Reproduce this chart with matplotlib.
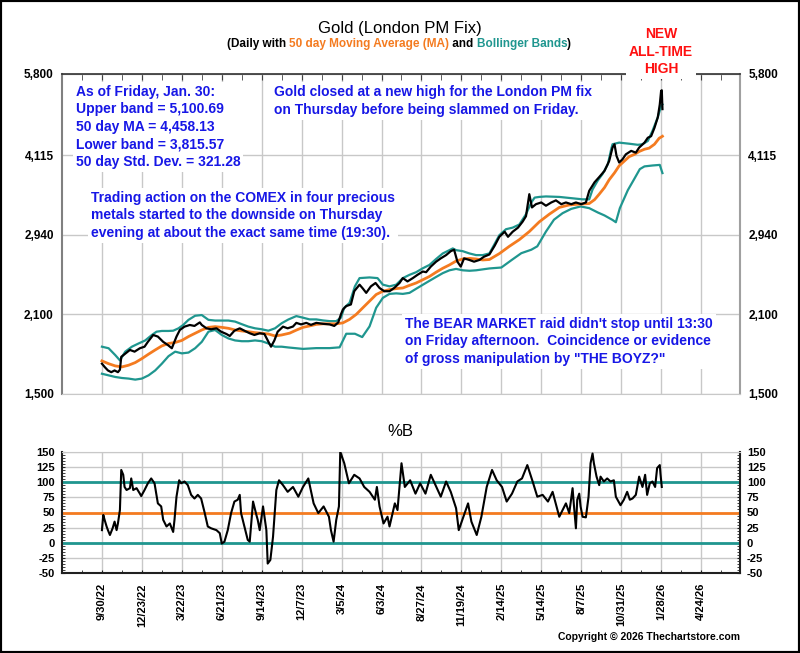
import matplotlib
matplotlib.use("Agg")
import matplotlib.pyplot as plt
from matplotlib.ticker import FixedLocator, MultipleLocator, NullLocator, FuncFormatter
from matplotlib.patches import Rectangle

plt.rcParams['font.family'] = ['Liberation Sans', 'DejaVu Sans']
plt.rcParams['font.weight'] = 'bold'
plt.rcParams['axes.unicode_minus'] = False

# ---------------- data (x = trading-day index from 9/30/22) ----------------
x_tick_labels = ["9/30/22", "12/23/22", "3/22/23", "6/21/23", "9/14/23", "12/7/23",
                 "3/5/24", "6/3/24", "8/27/24", "11/19/24", "2/14/25", "5/14/25",
                 "8/7/25", "10/31/25", "1/28/26", "4/24/26"]
x_tick_days = [0, 60, 120, 180, 240, 300, 360, 420, 480, 540, 600, 660, 720, 780, 840, 900]

price_day = [0, 4, 9, 14, 19, 24, 27, 29, 34, 42, 49, 57, 64, 69, 77, 84, 92, 99, 105, 112,
             117, 124, 132, 139, 147, 150, 157, 164, 172, 179, 187, 192, 199, 207, 214, 222,
             229, 237, 244, 249, 254, 259, 264, 272, 279, 287, 292, 299, 307, 314, 322, 332,
             342, 349, 355, 359, 362, 367, 374, 379, 387, 392, 397, 404, 411, 417, 424, 432,
             439, 447, 452, 459, 467, 474, 482, 487, 494, 502, 509, 517, 524, 529, 534, 539,
             544, 552, 559, 567, 574, 582, 590, 597, 605, 610, 617, 625, 632, 637, 642, 646,
             652, 660, 667, 675, 682, 690, 697, 705, 712, 720, 727, 732, 740, 747, 755, 762,
             767, 770, 773, 777, 782, 787, 795, 802, 807, 815, 820, 825, 830, 835, 838, 840,
             841, 842]
price_val = [1705, 1682, 1657, 1645, 1657, 1645, 1662, 1755, 1775, 1807, 1794, 1820, 1832, 1870,
             1925, 1912, 1870, 1845, 1820, 1912, 1966, 1994, 2008, 2000, 2030, 2008, 1980, 1972,
             1980, 1952, 1933, 1917, 1960, 1980, 1960, 1939, 1925, 1939, 1933, 1881, 1832, 1881,
             1952, 1994, 1980, 1995, 2026, 2013, 2026, 2009, 2026, 2018, 2013, 2000, 2030, 2100,
             2144, 2175, 2190, 2316, 2381, 2342, 2300, 2364, 2398, 2348, 2316, 2316, 2348, 2398,
             2448, 2414, 2448, 2482, 2517, 2510, 2570, 2624, 2661, 2698, 2743, 2760, 2624, 2570,
             2661, 2643, 2624, 2643, 2680, 2705, 2808, 2915, 2978, 2915, 2978, 3030, 3108, 3180,
             3490, 3300, 3346, 3370, 3324, 3370, 3400, 3346, 3370, 3346, 3370, 3346, 3370, 3540,
             3670, 3752, 3852, 4017, 4250, 4310, 4103, 3990, 4045, 4130, 4191, 4160, 4250, 4340,
             4430, 4460, 4620, 4830, 5100, 5400, 5415, 5000]

ma_day = [0, 10, 20, 30, 40, 50, 60, 70, 80, 90, 100, 110, 120, 130, 140, 150, 160, 170, 180,
          190, 200, 210, 220, 230, 240, 250, 260, 270, 282, 292, 302, 312, 322, 332, 342, 352,
          362, 372, 382, 392, 402, 412, 422, 432, 442, 452, 462, 472, 482, 492, 502, 512, 522,
          532, 542, 552, 562, 572, 582, 597, 612, 627, 642, 657, 672, 687, 702, 717, 732, 740,
          747, 755, 762, 770, 777, 785, 792, 800, 807, 815, 822, 830, 837, 842]
ma_val = [1725, 1705, 1689, 1682, 1694, 1713, 1742, 1775, 1807, 1838, 1857, 1865, 1881, 1912,
          1939, 1966, 1988, 1994, 1988, 1980, 1966, 1958, 1952, 1944, 1939, 1933, 1917, 1925,
          1940, 1965, 1988, 2000, 2013, 2018, 2018, 2018, 2026, 2056, 2100, 2160, 2221, 2284,
          2316, 2332, 2342, 2348, 2374, 2398, 2431, 2465, 2510, 2552, 2588, 2631, 2654, 2661,
          2654, 2643, 2648, 2715, 2800, 2880, 2980, 3105, 3207, 3300, 3335, 3346, 3355, 3410,
          3490, 3590, 3710, 3820, 3935, 4017, 4090, 4130, 4180, 4220, 4240, 4310, 4420, 4458.13]

upper_day = [0, 10, 20, 27, 35, 45, 55, 65, 75, 82, 90, 100, 107, 115, 122, 130, 140, 150, 160,
             170, 180, 190, 200, 210, 220, 230, 240, 250, 260, 270, 280, 292, 302, 312, 322,
             332, 342, 352, 359, 364, 372, 380, 387, 402, 414, 422, 432, 442, 452, 462, 472,
             482, 492, 502, 512, 522, 527, 532, 542, 552, 562, 572, 582, 590, 597, 607, 617,
             627, 637, 645, 650, 657, 667, 687, 707, 722, 732, 737, 745, 752, 760, 765, 767,
             777, 792, 805, 812, 820, 827, 835, 840, 842]
upper_val = [1832, 1820, 1768, 1729, 1794, 1832, 1857, 1881, 1925, 1952, 1958, 1958, 1960, 1980,
             2008, 2052, 2088, 2094, 2052, 2046, 2046, 2046, 2037, 2015, 1994, 1980, 1972, 1960,
             1980, 2023, 2055, 2085, 2071, 2056, 2056, 2047, 2041, 2041, 2071, 2160, 2205, 2364,
             2448, 2455, 2448, 2381, 2364, 2381, 2448, 2482, 2510, 2552, 2588, 2654, 2717, 2755,
             2775, 2755, 2743, 2717, 2698, 2698, 2717, 2830, 2935, 3010, 3030, 3070, 3207, 3370,
             3440, 3450, 3457, 3450, 3430, 3415, 3415, 3560, 3700, 3800, 3962, 4220, 4310, 4340,
             4320, 4300, 4310, 4370, 4560, 4830, 5065, 5100.69]

lower_day = [0, 10, 20, 30, 40, 50, 60, 70, 80, 90, 100, 110, 120, 130, 140, 150, 160, 170, 180,
             190, 200, 210, 220, 230, 240, 250, 260, 270, 280, 290, 302, 322, 342, 357, 367,
             380, 391, 402, 412, 422, 432, 442, 452, 462, 472, 482, 492, 502, 512, 522, 532,
             542, 552, 562, 572, 582, 600, 615, 630, 645, 654, 667, 679, 692, 705, 719, 732,
             745, 755, 767, 772, 778, 790, 799, 808, 815, 827, 838, 842]
lower_val = [1634, 1623, 1612, 1605, 1601, 1594, 1601, 1623, 1657, 1705, 1760, 1794, 1781, 1787,
             1820, 1870, 1952, 1966, 1925, 1897, 1881, 1875, 1875, 1881, 1875, 1857, 1832, 1832,
             1826, 1821, 1815, 1821, 1821, 1827, 1935, 1935, 1908, 1996, 2160, 2252, 2290, 2295,
             2290, 2300, 2340, 2380, 2420, 2460, 2500, 2530, 2545, 2530, 2525, 2530, 2540, 2550,
             2560, 2640, 2720, 2760, 2800, 2980, 3133, 3221, 3280, 3314, 3290, 3230, 3190, 3130,
             3100, 3290, 3550, 3710, 3880, 3925, 3940, 3950, 3815.57]

pctb_day = [0, 2, 4, 7, 9, 12, 16, 19, 22, 24, 27, 29, 32, 34, 37, 42, 44, 47, 52, 57, 59, 64,
            69, 74, 79, 84, 89, 92, 97, 102, 107, 109, 112, 116, 119, 124, 129, 134, 139, 144,
            149, 154, 159, 164, 172, 177, 180, 184, 189, 194, 199, 204, 207, 209, 214, 219, 222,
            227, 232, 234, 237, 242, 247, 249, 253, 257, 262, 266, 272, 279, 287, 295, 302, 310,
            318, 325, 333, 341, 344, 348, 352, 356, 358, 364, 371, 379, 387, 394, 402, 410, 413,
            417, 423, 429, 432, 436, 440, 444, 450, 455, 463, 471, 478, 486, 494, 501, 509, 517,
            524, 532, 536, 543, 550, 555, 563, 570, 578, 586, 593, 601, 608, 616, 624, 631, 639,
            647, 654, 662, 670, 677, 687, 692, 697, 702, 707, 709, 712, 714, 717, 719, 722, 727,
            731, 734, 737, 739, 743, 747, 749, 754, 759, 764, 769, 772, 776, 779, 784, 789, 793,
            797, 802, 807, 812, 816, 819, 823, 827, 831, 834, 838, 839, 841]
pctb_val = [21, 46, 38, 27, 21, 13, 24, 35, 21, 32, 54, 120, 112, 92, 87, 90, 106, 87, 90, 81,
            77, 87, 98, 106, 98, 65, 60, 38, 27, 32, 18, 38, 76, 103, 98, 101, 95, 79, 73, 79,
            73, 51, 27, 24, 21, 16, -1, 2, 21, 49, 68, 71, 79, 49, 27, 5, 2, 68, 46, 38, 21, 60,
            21, -34, -28, 10, 87, 103, 95, 84, 92, 76, 92, 106, 65, 49, 60, 43, 21, 2, 38, 60,
            150, 131, 98, 112, 106, 92, 84, 71, 92, 60, 32, 43, 27, 46, 65, 54, 131, 92, 103, 81,
            98, 81, 112, 95, 76, 101, 84, 57, 21, 43, 65, 35, 13, 43, 92, 120, 103, 92, 68, 81,
            101, 106, 128, 101, 76, 79, 68, 84, 43, 54, 65, 49, 90, 62, 24, 71, 81, 60, 43, 42,
            76, 131, 147, 131, 109, 95, 109, 101, 106, 101, 103, 76, 68, 62, 71, 84, 71, 73, 79,
            109, 92, 112, 79, 98, 101, 92, 123, 128, 114, 92]

price_ticks = [1500, 2100, 2940, 4115, 5800]
pctb_ticks = [-50, -25, 0, 25, 50, 75, 100, 125, 150]
pctb_levels = [0, 50, 100]

# ---------------- styling ----------------
W, H = 800, 653
TEAL = '#1f968f'
ORANGE = '#f47b20'
BLUE = '#1717e6'
RED = '#ff1010'
GRID = '#c8c8c8'


def fx(px):
    return px / W


def fy(py):
    return 1 - py / H


fig = plt.figure(figsize=(W / 100, H / 100), dpi=100)
ax = fig.add_axes([fx(62), fy(394), 678 / W, 320 / H])
ax2 = fig.add_axes([fx(62), fy(573.3), 678 / W, 121.6 / H])

# ---------------- main panel ----------------
ax.plot(upper_day, upper_val, color=TEAL, lw=1.6, zorder=3)
ax.plot(lower_day, lower_val, color=TEAL, lw=1.6, zorder=3)
ax.plot(ma_day, ma_val, color=ORANGE, lw=2.0, zorder=4)
ax.plot(price_day, price_val, color='black', lw=1.6, zorder=5)
ax.set_yscale('log')
ax.set_ylim(1500, 5800)
ax.set_xlim(-60, 958.5)
ax.yaxis.set_major_locator(FixedLocator(price_ticks))
ax.yaxis.set_minor_locator(NullLocator())
ax.yaxis.set_major_formatter(FuncFormatter(lambda v, p: f'{v:,.0f}'))
ax.set_xticks(x_tick_days)
ax.xaxis.set_minor_locator(MultipleLocator(30))
ax.grid(True, which='major', color=GRID, lw=1, zorder=0)
ax.tick_params(axis='x', which='both', top=True, bottom=False, direction='in',
               length=4, labelbottom=False, color='#404040')
ax.tick_params(axis='y', which='major', left=True, right=True, length=0,
               labelleft=True, labelright=True, pad=6, labelsize=8.5)
ax.spines['left'].set_color('#808080')
ax.spines['left'].set_linewidth(1.5)
ax.spines['right'].set_color('#a0a0a0')
ax.spines['right'].set_linewidth(1.5)
ax.spines['top'].set_color('#303030')
ax.spines['top'].set_linewidth(1.2)
ax.spines['bottom'].set_color('#c8c8c8')

# ---------------- %B panel ----------------
for lev, col in zip(pctb_levels, [TEAL, ORANGE, TEAL]):
    ax2.axhline(lev, color=col, lw=2, zorder=2)
ax2.plot(pctb_day, pctb_val, color='black', lw=1.5, zorder=3)
ax2.set_ylim(-50, 150)
ax2.set_xlim(-60, 958.5)
ax2.set_yticks(pctb_ticks)
ax2.yaxis.set_minor_locator(MultipleLocator(5))
ax2.set_xticks(x_tick_days)
ax2.set_xticklabels(x_tick_labels, rotation=90)
ax2.xaxis.set_minor_locator(MultipleLocator(30))
ax2.grid(True, which='major', color=GRID, lw=1, zorder=0)
ax2.tick_params(axis='x', which='both', bottom=True, direction='in', length=2.5,
                pad=7, labelsize=8, color='#202020')
ax2.tick_params(axis='y', which='both', left=True, right=True, direction='in',
                length=2.5, labelleft=True, labelright=True, pad=5, labelsize=8,
                color='#202020')
for s in ['left', 'right', 'bottom']:
    ax2.spines[s].set_color('#202020')
    ax2.spines[s].set_linewidth(1.5)
ax2.spines['top'].set_color('#c8c8c8')

# ---------------- titles ----------------
fig.text(fx(400), fy(28), 'Gold (London PM Fix)', ha='center', va='center',
         fontsize=12, fontweight='normal')
fig.text(fx(400), fy(432), '%B', ha='center', va='center', fontsize=12, fontweight='normal')

pieces = [('(Daily with ', 'black'), ('50 day Moving Average (MA)', ORANGE),
          (' and ', 'black'), ('Bollinger Bands', TEAL), (')', 'black')]
renderer = fig.canvas.get_renderer()
objs = []
total = 0
for s, c in pieces:
    t = fig.text(0, fy(44), s, color=c, fontsize=8.5, fontweight='bold', ha='left', va='center')
    w = t.get_window_extent(renderer).width
    objs.append((t, w))
    total += w
x0 = 399 - total / 2
for t, w in objs:
    t.set_x(fx(x0))
    x0 += w

box = dict(boxstyle='square,pad=0.2', fc='white', ec='none')
fig.text(fx(76), fy(127),
         'As of Friday, Jan. 30:\nUpper band = 5,100.69\n50 day MA = 4,458.13\n'
         'Lower band = 3,815.57\n50 day Std. Dev. = 321.28',
         color=BLUE, fontsize=10, ha='left', va='center', linespacing=1.33, bbox=box)
fig.text(fx(274), fy(101),
         'Gold closed at a new high for the London PM fix\n'
         'on Thursday before being slammed on Friday.',
         color=BLUE, fontsize=10, ha='left', va='center', linespacing=1.33, bbox=box)
fig.text(fx(91), fy(215.5),
         'Trading action on the COMEX in four precious\n'
         'metals started to the downside on Thursday\n'
         'evening at about the exact same time (19:30).',
         color=BLUE, fontsize=10, ha='left', va='center', linespacing=1.33, bbox=box)
fig.text(fx(405), fy(341.5),
         "The BEAR MARKET raid didn't stop until 13:30\n"
         "on Friday afternoon.  Coincidence or evidence\n"
         'of gross manipulation by "THE BOYZ?"',
         color=BLUE, fontsize=10, ha='left', va='center', linespacing=1.33, bbox=box)
fig.text(fx(661), fy(51.5), 'NEW\nALL-TIME\nHIGH', color=RED, fontsize=10,
         ha='center', va='center', multialignment='center', linespacing=1.33, bbox=box)

fig.text(fx(740), fy(637), 'Copyright \u00a9 2026 Thechartstore.com', ha='right',
         va='center', fontsize=7.5, fontweight='bold')

fig.patches.append(Rectangle((0, 0), 1, 1, transform=fig.transFigure, fill=False,
                             ec='black', lw=3, zorder=10))

fig.savefig('out.png', dpi=100)
